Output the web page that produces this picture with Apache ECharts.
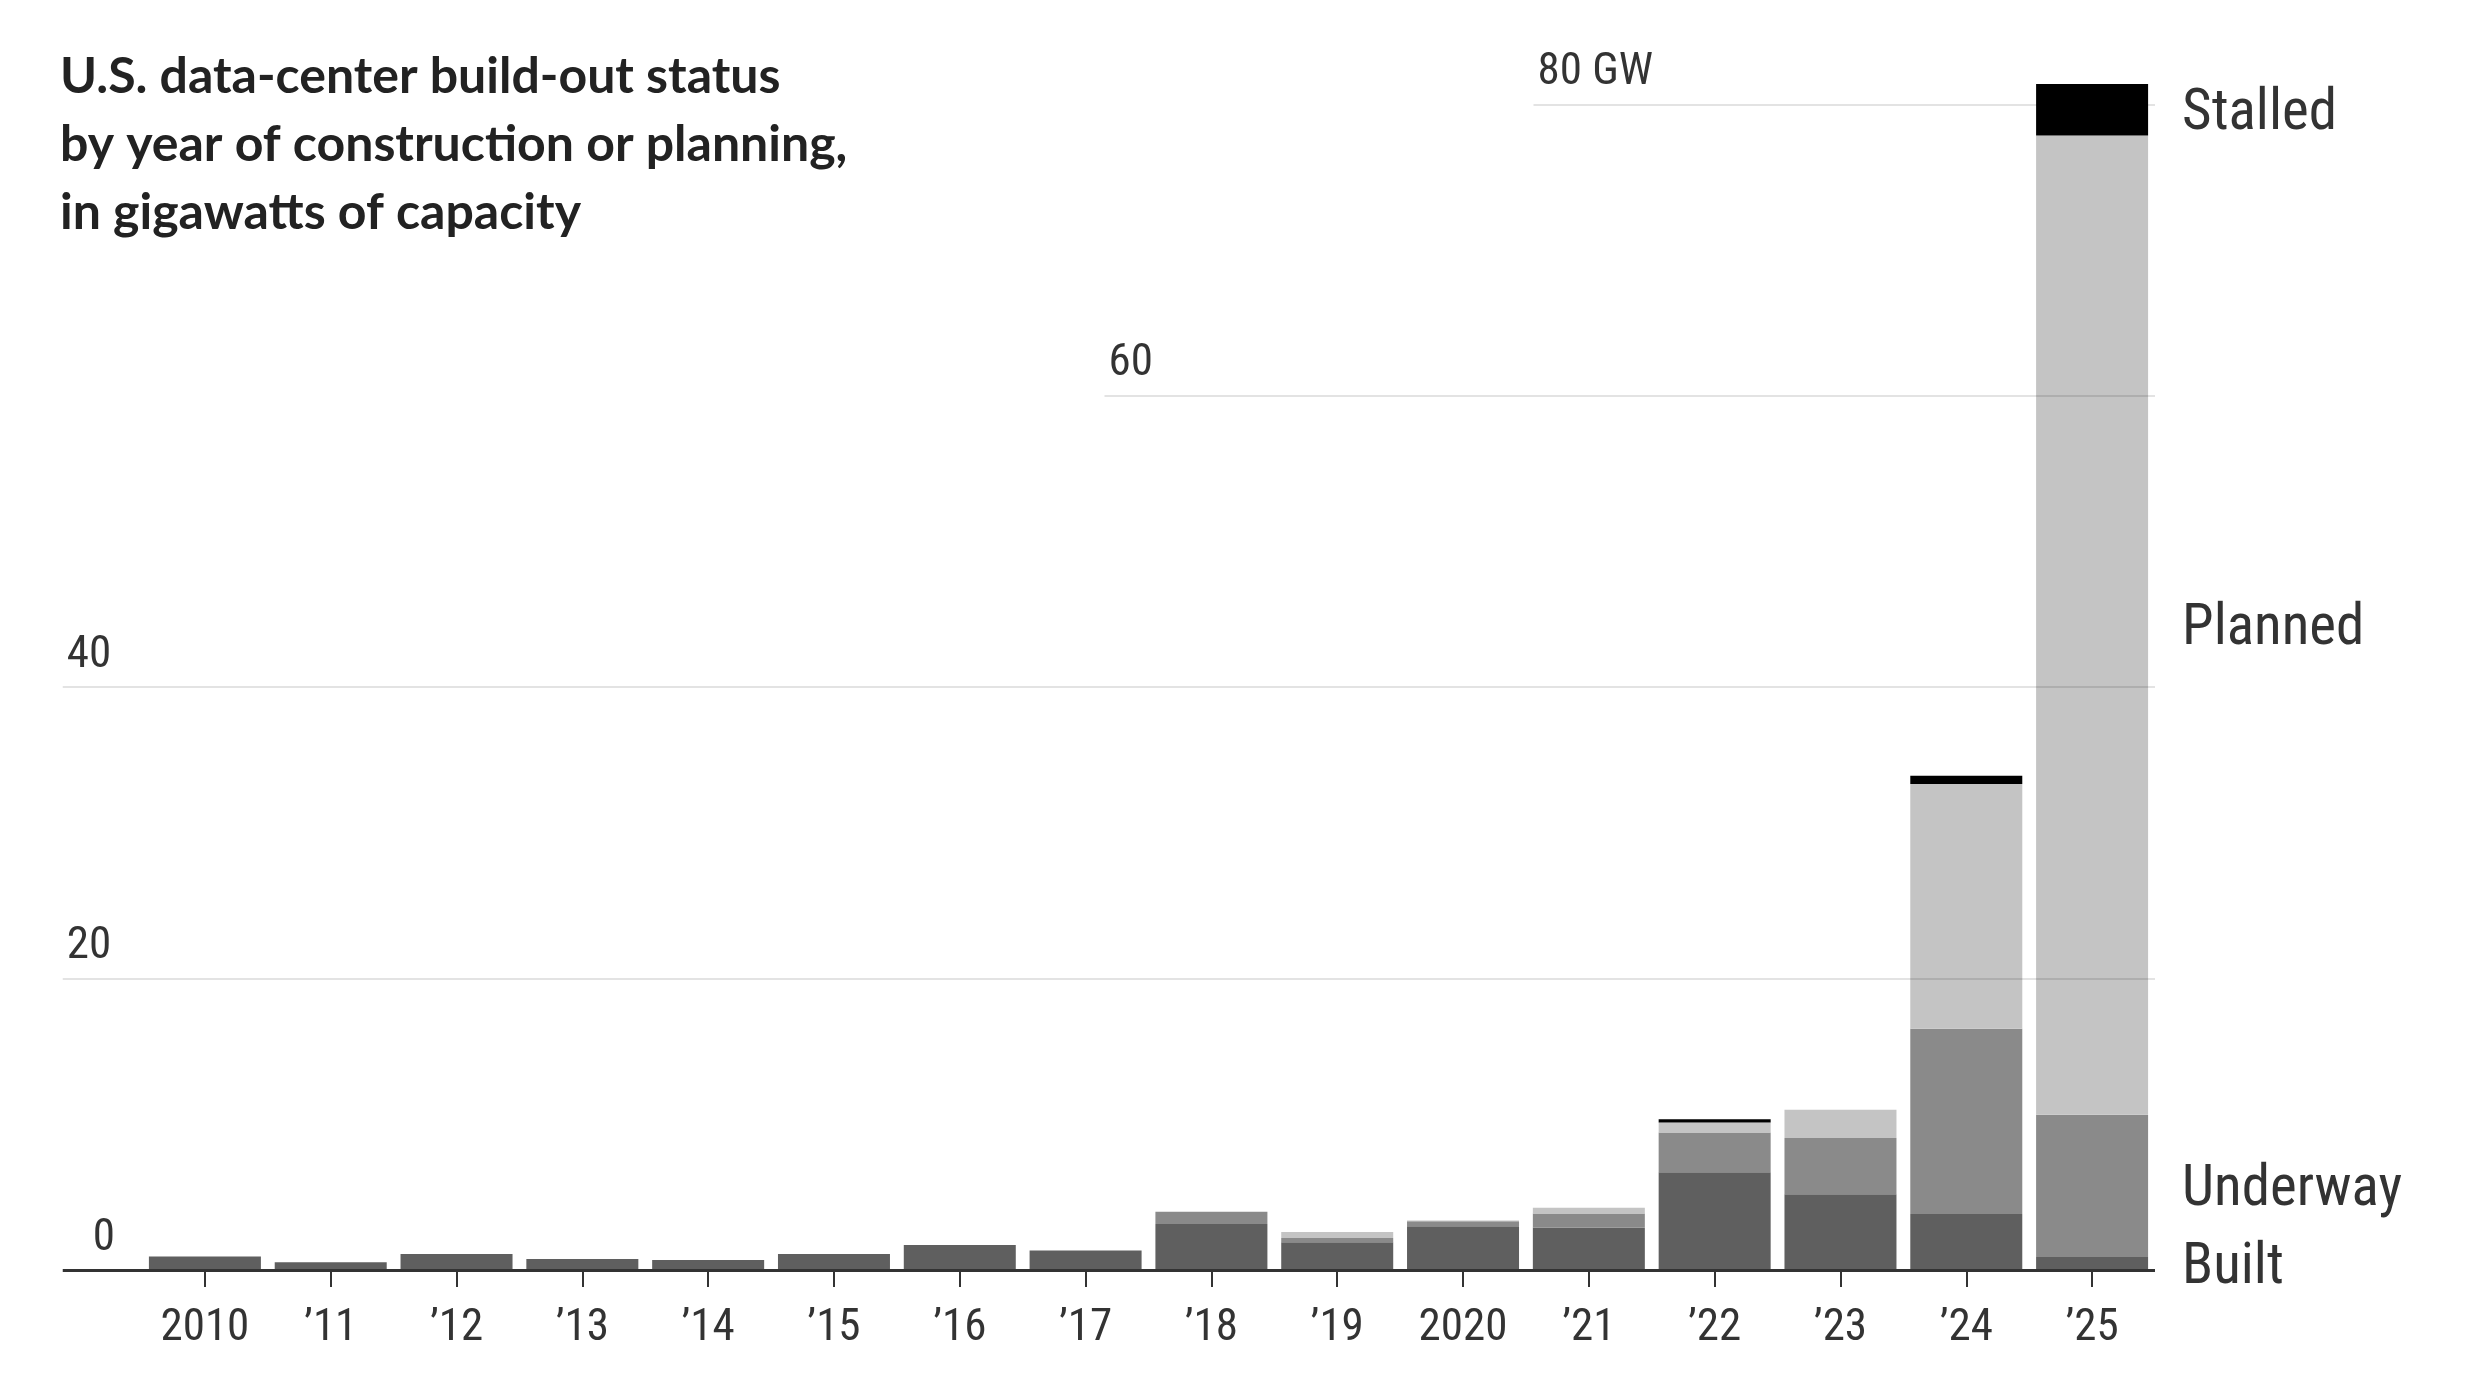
<!DOCTYPE html>
<html>
<head>
<meta charset="utf-8">
<script src="https://cdn.jsdelivr.net/npm/echarts@6/dist/echarts.min.js"></script>
<style>
html,body{margin:0;padding:0;background:#fff;}
#chart{width:2476px;height:1380px;}
</style>
</head>
<body>
<div id="chart"></div>
<script>
// ---- data ----
const categories = ['2010','\u201911','\u201912','\u201913','\u201914','\u201915','\u201916','\u201917','\u201918','\u201919','2020','\u201921','\u201922','\u201923','\u201924','\u201925'];
const built    = [0.92,0.53,1.10,0.76,0.69,1.10,1.72,1.33,3.15,1.90,3.00,2.90,6.70,5.20,3.85,0.89];
const underway = [0,0,0,0,0,0,0,0,0.85,0.30,0.35,0.98,2.74,3.86,12.70,9.76];
const planned  = [0,0,0,0,0,0,0,0,0,0.40,0.05,0.39,0.68,1.94,16.80,67.20];
const stalled  = [0,0,0,0,0,0,0,0,0,0,0,0,0.23,0,0.57,3.55];
const gridTicks = [0,20,40,60,80];
const gridTickLabels = ['0','20','40','60','80 GW'];
const titleLines = ['U.S. data-center build-out status','by year of construction or planning,','in gigawatts of capacity'];

const FONT = "'Liberation Sans Narrow','Roboto Condensed','Liberation Sans',sans-serif";
const TITLE_FONT = "Lato,'Liberation Sans',sans-serif";
const TXT = '#333333';

function withEndLabel(values, name){
  return values.map((v,i)=> i === values.length-1 ? {
    value: v,
    label: {show:true, position:'right', distance:34, offset:[0,5], formatter:name,
            fontFamily:FONT, fontSize:57, color:TXT}
  } : v);
}

// gridline start positions (in bar-index units of the overlay axis)
const gridStarts = [-1.13, -1.13, -1.13, 7.15, 10.56];

const markData = gridTicks.map((t,i)=>{
  const isBase = t === 0;
  return [
    {coord:[gridStarts[i], t],
     lineStyle: isBase ? {color:'#333', width:3, type:'solid', opacity:1}
                       : {color:'rgba(0,0,0,0.11)', width:2, type:'solid'},
     label:{show:true, position:'insideStartTop', formatter:gridTickLabels[i],
            distance:[isBase ? 30 : 4, 9], fontFamily:FONT, fontSize:45, color:TXT}},
    {coord:[15.5, t]}
  ];
});

const chart = echarts.init(document.getElementById('chart'), null, {renderer:'canvas'});
chart.setOption({
  backgroundColor:'#ffffff',
  animation:false,
  title:{
    text: titleLines.join('\n'),
    left:60, top:43, padding:0,
    textStyle:{fontFamily:TITLE_FONT, fontWeight:'bold', fontSize:50, lineHeight:68, color:'#222'}
  },
  grid:[
    {left:142, right:321, top:46, bottom:110, containLabel:false},
    {left:60, right:321, top:46, bottom:110, containLabel:false}
  ],
  xAxis:[
    {type:'category', gridIndex:0, data:categories,
     axisLine:{show:false},
     axisTick:{show:true, alignWithLabel:true, length:17, lineStyle:{color:'#333', width:2}},
     axisLabel:{margin:36, fontFamily:FONT, fontSize:45, color:TXT},
     splitLine:{show:false}},
    {type:'value', gridIndex:1, min:-1.1518, max:15.5, show:false, splitLine:{show:false}}
  ],
  yAxis:[
    {type:'value', gridIndex:0, min:0, max:84, show:false, splitLine:{show:false}},
    {type:'value', gridIndex:1, min:0, max:84, show:false, splitLine:{show:false}}
  ],
  series:[
    {name:'Built', type:'bar', stack:'total', xAxisIndex:0, yAxisIndex:0, barWidth:112,
     itemStyle:{color:'#5f5f5f'}, data:withEndLabel(built,'Built')},
    {name:'Underway', type:'bar', stack:'total', xAxisIndex:0, yAxisIndex:0, barWidth:112,
     itemStyle:{color:'#8a8a8a'}, data:withEndLabel(underway,'Underway')},
    {name:'Planned', type:'bar', stack:'total', xAxisIndex:0, yAxisIndex:0, barWidth:112,
     itemStyle:{color:'#c4c4c4'}, data:withEndLabel(planned,'Planned')},
    {name:'Stalled', type:'bar', stack:'total', xAxisIndex:0, yAxisIndex:0, barWidth:112,
     itemStyle:{color:'#000000'}, data:withEndLabel(stalled,'Stalled')},
    {name:'grid', type:'line', xAxisIndex:1, yAxisIndex:1, data:[], symbol:'none', silent:true, z:5,
     markLine:{silent:true, symbol:['none','none'], animation:false, data:markData}}
  ]
});
</script>
</body>
</html>
